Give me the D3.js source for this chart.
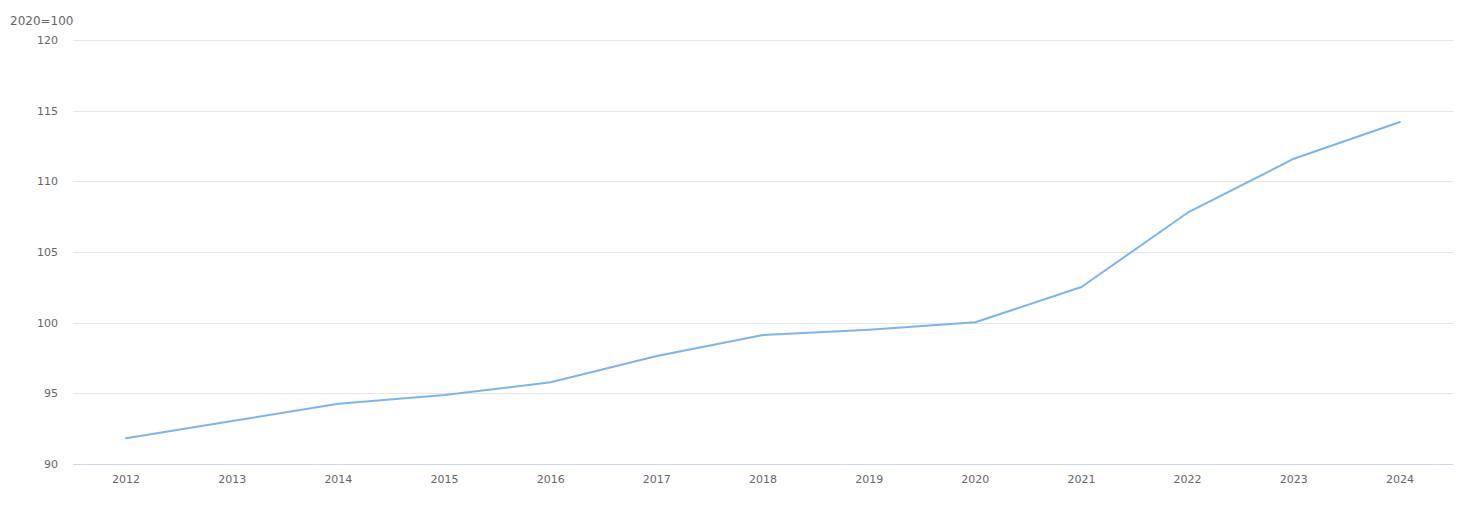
<!DOCTYPE html>
<html>
<head>
<meta charset="utf-8">
<script src="https://cdn.jsdelivr.net/npm/d3@7"></script>
<style>
  body { margin: 0; background: #fff; }
  svg { display: block; font-family: "DejaVu Sans", sans-serif; }
</style>
</head>
<body>
<svg id="chart" width="1463" height="508"></svg>
<script>
// Data
const years = ["2012", "2013", "2014", "2015", "2016", "2017", "2018", "2019", "2020", "2021", "2022", "2023", "2024"];
const values = [91.82, 93.04, 94.27, 94.88, 95.78, 97.64, 99.13, 99.5, 100.03, 102.52, 107.78, 111.6, 114.2];
const yTicks = [90, 95, 100, 105, 110, 115, 120];
const unitLabel = "2020=100";

const svg = d3.select("#chart");
const margin = { left: 73, right: 10, top: 40, bottom: 44 };
const width = 1463, height = 508;

const x = d3.scalePoint()
    .domain(years)
    .range([margin.left, width - margin.right])
    .padding(0.5);

const y = d3.scaleLinear()
    .domain([90, 120])
    .range([height - margin.bottom, margin.top]);

// gridlines
svg.append("g")
    .selectAll("line")
    .data(yTicks.slice(1))
    .join("line")
    .attr("x1", margin.left)
    .attr("x2", width - margin.right)
    .attr("y1", d => Math.round(y(d)) + 0.5)
    .attr("y2", d => Math.round(y(d)) + 0.5)
    .attr("stroke", "#e6e6e6");

// baseline
svg.append("line")
    .attr("x1", margin.left)
    .attr("x2", width - margin.right)
    .attr("y1", Math.round(y(90)) + 0.5)
    .attr("y2", Math.round(y(90)) + 0.5)
    .attr("stroke", "#ccd6eb");

// y labels
svg.append("g")
    .selectAll("text")
    .data(yTicks)
    .join("text")
    .attr("x", 58)
    .attr("y", d => y(d) + 4)
    .attr("text-anchor", "end")
    .attr("font-size", 11)
    .attr("fill", "#666")
    .text(d => d);

// x labels
svg.append("g")
    .selectAll("text")
    .data(years)
    .join("text")
    .attr("x", d => x(d))
    .attr("y", 483)
    .attr("text-anchor", "middle")
    .attr("font-size", 11)
    .attr("fill", "#666")
    .text(d => d);

// unit title
svg.append("text")
    .attr("x", 10)
    .attr("y", 25)
    .attr("font-size", 12)
    .attr("fill", "#666")
    .text(unitLabel);

// line
const line = d3.line()
    .x((d, i) => x(years[i]))
    .y(d => y(d));

svg.append("path")
    .datum(values)
    .attr("fill", "none")
    .attr("stroke", "#7cb5ec")
    .attr("stroke-width", 2)
    .attr("stroke-linejoin", "round")
    .attr("stroke-linecap", "round")
    .attr("d", line);
</script>
</body>
</html>
